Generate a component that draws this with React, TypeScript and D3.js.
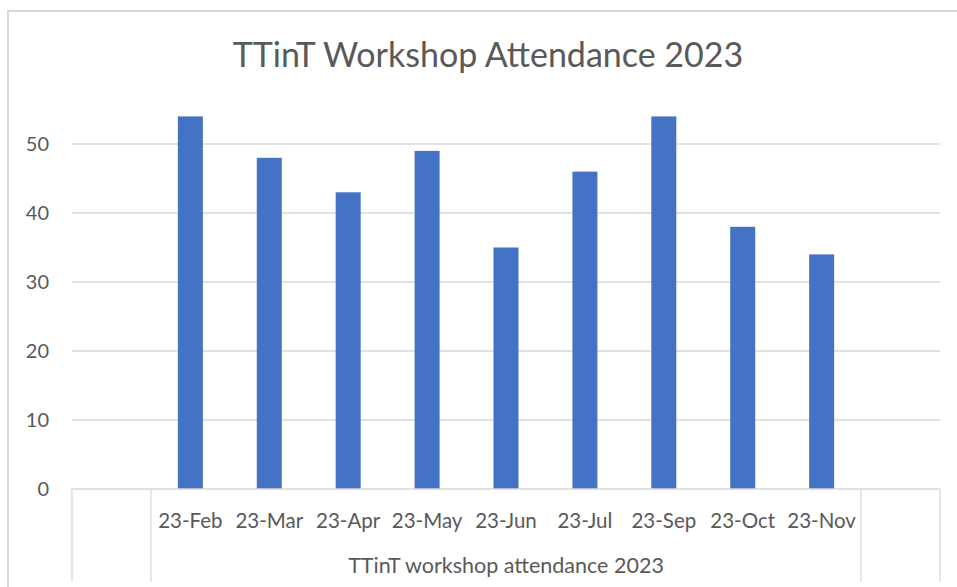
import React from 'react'
import * as d3 from 'd3'

const months = ['23-Feb', '23-Mar', '23-Apr', '23-May', '23-Jun', '23-Jul', '23-Sep', '23-Oct', '23-Nov']
const attendance = [54, 48, 43, 49, 35, 46, 54, 38, 34]
const yTicks = [0, 10, 20, 30, 40, 50]
const title = 'TTinT Workshop Attendance 2023'
const groupLabel = 'TTinT workshop attendance 2023'

const W = 957
const H = 587
const font = 'Lato, "Open Sans", sans-serif'
const textColor = '#595959'
const gridColor = '#d9d9d9'

// empty slot before and after the months, like the sheet had
const slots = ['', ...months, '']

const App = () => {
  const left = 72
  const right = 940
  const axisY = 489

  const x = d3.scaleBand().domain(slots.map((s, i) => String(i))).range([left, right])
  const y = d3.scaleLinear().domain([0, 60]).range([axisY, axisY - 6 * 69])
  const barW = 25

  const firstEdge = x('1') as number
  const lastEdge = (x(String(months.length)) as number) + x.bandwidth()

  return (
    <svg width={W} height={H} style={{ position: 'absolute', left: 0, top: 0 }}>
      <rect x={0} y={0} width={W} height={H} fill='#fff' />
      <path d={`M8,${H} V11 H${W}`} fill='none' stroke={gridColor} strokeWidth={2} />
      <text x={488} y={67} textAnchor='middle' fontFamily={font} fontSize={34} fill={textColor}>{title}</text>

      {yTicks.map(t => (
        <g key={t}>
          {t > 0 && <line x1={left} x2={right} y1={y(t)} y2={y(t)} stroke={gridColor} strokeWidth={1.3} />}
          <text x={49} y={y(t) + 7} textAnchor='end' fontFamily={font} fontSize={20} fill={textColor}>{t}</text>
        </g>
      ))}

      {attendance.map((v, i) => {
        const cx = (x(String(i + 1)) as number) + x.bandwidth() / 2
        return <rect key={months[i]} x={cx - barW / 2} y={y(v)} width={barW} height={y(0) - y(v)} fill='#4472c4' />
      })}

      <line x1={left} x2={right} y1={axisY} y2={axisY} stroke={gridColor} strokeWidth={1.3} />
      {[left, firstEdge, lastEdge, right].map((lx, i) => (
        <line key={i} x1={lx} x2={lx} y1={axisY} y2={582} stroke={gridColor} strokeWidth={1.3} />
      ))}

      {months.map((m, i) => (
        <text key={m} x={(x(String(i + 1)) as number) + x.bandwidth() / 2} y={528} textAnchor='middle'
          fontFamily={font} fontSize={20.5} fill={textColor}>{m}</text>
      ))}
      <text x={(firstEdge + lastEdge) / 2} y={573} textAnchor='middle' fontFamily={font} fontSize={21.5} fill={textColor}>{groupLabel}</text>
    </svg>
  )
}

export default App
